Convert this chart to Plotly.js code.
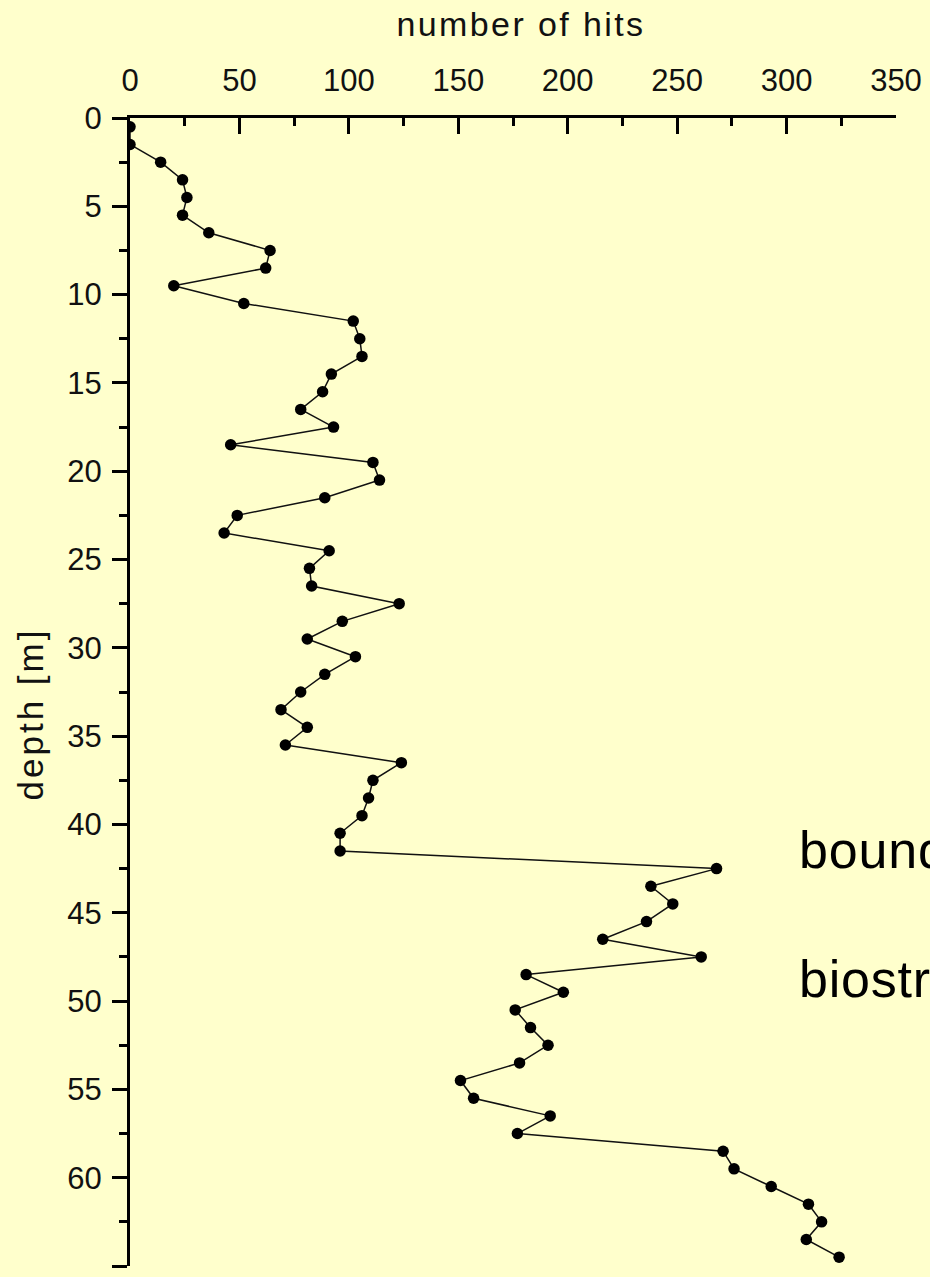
<!DOCTYPE html>
<html>
<head>
<meta charset="utf-8">
<script src="https://cdn.plot.ly/plotly-3.0.1.min.js"></script>
<style>
  html, body { margin: 0; padding: 0; background: #ffffcc; overflow: hidden; }
  #chart { width: 930px; height: 1277px; }
  .xtitle { letter-spacing: 2.4px; }
  .ytitle { letter-spacing: 3px; }
  .annotation-text { letter-spacing: 0.8px; }
  .g-xtitle { transform: translate(8px, 0px); }
  .g-ytitle { transform: translate(0px, 22px); }
</style>
</head>
<body>
<div id="chart"></div>
<script>
// depth of each sample (m)
const depth = [0.5, 1.5, 2.5, 3.5, 4.5, 5.5, 6.5, 7.5, 8.5, 9.5,
  10.5, 11.5, 12.5, 13.5, 14.5, 15.5, 16.5, 17.5, 18.5, 19.5,
  20.5, 21.5, 22.5, 23.5, 24.5, 25.5, 26.5, 27.5, 28.5, 29.5,
  30.5, 31.5, 32.5, 33.5, 34.5, 35.5, 36.5, 37.5, 38.5, 39.5,
  40.5, 41.5, 42.5, 43.5, 44.5, 45.5, 46.5, 47.5, 48.5, 49.5,
  50.5, 51.5, 52.5, 53.5, 54.5, 55.5, 56.5, 57.5, 58.5, 59.5,
  60.5, 61.5, 62.5, 63.5, 64.5];
// number of hits at each depth
const hits = [0, 0, 14, 24, 26, 24, 36, 64, 62, 20,
  52, 102, 105, 106, 92, 88, 78, 93, 46, 111,
  114, 89, 49, 43, 91, 82, 83, 123, 97, 81,
  103, 89, 78, 69, 81, 71, 124, 111, 109, 106,
  96, 96, 268, 238, 248, 236, 216, 261, 181, 198,
  176, 183, 191, 178, 151, 157, 192, 177, 271, 276,
  293, 310, 316, 309, 324];

const xTitle = "number of hits";
const yTitle = "depth [m]";
const noteLines = ["boundary", "biostratigraphic"];

const bg = "#ffffcc";
const ink = "#111111";
const fontFam = "Liberation Sans, Arial, sans-serif";

const trace = {
  x: hits,
  y: depth,
  type: "scatter",
  mode: "lines+markers",
  line: { color: ink, width: 1.5 },
  marker: { color: "#000000", size: 11.5 },
  hoverinfo: "x+y",
  showlegend: false
};

const axisCommon = {
  showline: true, linecolor: "#000000", linewidth: 3,
  showgrid: false, zeroline: false,
  tickcolor: "#000000", tickwidth: 3,
  tickfont: { family: fontFam, size: 31, color: ink },
  automargin: false
};

const layout = {
  width: 930, height: 1277,
  paper_bgcolor: bg, plot_bgcolor: bg,
  margin: { l: 130, r: 34, t: 118, b: 11 },
  font: { family: fontFam, color: ink },
  showlegend: false,
  xaxis: Object.assign({}, axisCommon, {
    side: "top",
    range: [0, 350],
    tick0: 0, dtick: 50,
    ticks: "inside", ticklen: 16,
    ticklabelstandoff: 12,
    minor: { ticks: "inside", dtick: 25, ticklen: 8, tickwidth: 3, tickcolor: "#000000" },
    title: { text: xTitle, font: { family: fontFam, size: 34, color: ink }, standoff: 16 }
  }),
  yaxis: Object.assign({}, axisCommon, {
    range: [65, 0],
    tick0: 0, dtick: 5,
    ticks: "outside", ticklen: 15,
    ticklabelstandoff: 4,
    minor: { ticks: "outside", dtick: 2.5, ticklen: 8, tickwidth: 3, tickcolor: "#000000" },
    title: { text: yTitle, font: { family: fontFam, size: 35, color: ink }, standoff: 14 }
  }),
  annotations: [
    { text: noteLines[0], xref: "paper", yref: "paper", x: 0.871, y: 0.3624,
      xanchor: "left", yanchor: "middle", showarrow: false,
      font: { family: fontFam, size: 52, color: "#000000" } },
    { text: noteLines[1], xref: "paper", yref: "paper", x: 0.871, y: 0.2504,
      xanchor: "left", yanchor: "middle", showarrow: false,
      font: { family: fontFam, size: 52, color: "#000000" } }
  ]
};

Plotly.newPlot("chart", [trace], layout, { displayModeBar: false, staticPlot: true });
</script>
</body>
</html>
